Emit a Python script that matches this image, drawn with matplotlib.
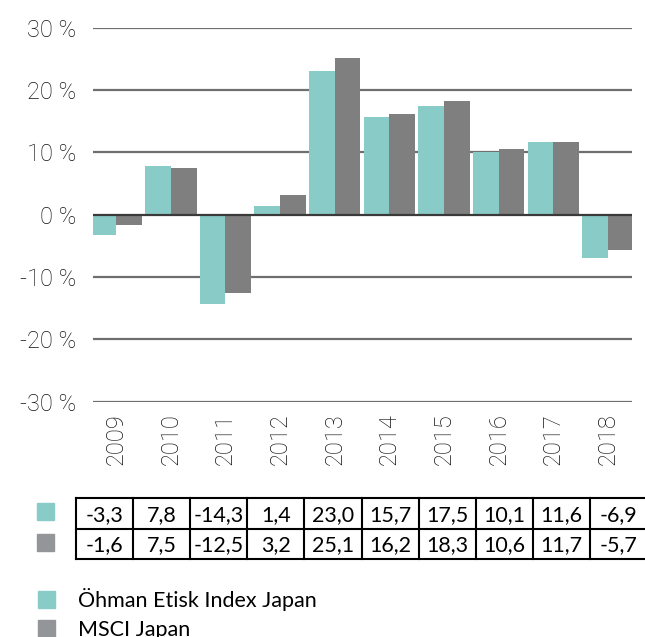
import matplotlib
matplotlib.use("Agg")
import matplotlib.pyplot as plt
from matplotlib.patches import Rectangle
import numpy as np

years = ["2009", "2010", "2011", "2012", "2013", "2014", "2015", "2016", "2017", "2018"]
ohman = [-3.3, 7.8, -14.3, 1.4, 23.0, 15.7, 17.5, 10.1, 11.6, -6.9]
msci = [-1.6, 7.5, -12.5, 3.2, 25.1, 16.2, 18.3, 10.6, 11.7, -5.7]
series_names = ["Öhman Etisk Index Japan", "MSCI Japan"]
yticks = [-30, -20, -10, 0, 10, 20, 30]

teal = "#89CBC6"
gray = "#7F7F7F"
gray_sq = "#939598"

W, H = 645, 637
fig = plt.figure(figsize=(W / 100, H / 100), dpi=100)

def fx(px):
    return px / W

def fy(py):
    return 1 - py / H

ax = fig.add_axes([fx(93), fy(401.7), fx(632) - fx(93), fy(27.7) - fy(401.7)])
x = np.arange(len(years))
bw = 0.47
ax.bar(x - bw / 2, ohman, width=bw, color=teal, zorder=3)
ax.bar(x + bw / 2, msci, width=bw, color=gray, zorder=3)
ax.set_xlim(-0.425, 9.44)
ax.set_ylim(-30, 30)
for yv in yticks:
    ax.axhline(yv, color="#6f6f6f" if yv != 0 else "#3a3a3a", lw=1.6, zorder=2 if yv != 0 else 4)
for s in ax.spines.values():
    s.set_visible(False)
tick_font = dict(fontsize=17, color="#111111", fontfamily="Roboto", fontweight="light")
ax.set_yticks(yticks)
ax.set_yticklabels([f"{v} %" for v in yticks], **tick_font)
ax.set_xticks(x)
ax.set_xticklabels(years, rotation=90, va="top", **tick_font)
ax.tick_params(axis="both", length=0)
ax.tick_params(axis="y", pad=12)
ax.tick_params(axis="x", pad=8)

# data table
tl, tw = 76, 57.1
rows_y = [498.3, 529.0, 559.3]
tfont = dict(fontsize=15.5, fontfamily="Lato", color="black", ha="center", va="center")
for r, vals in enumerate([ohman, msci]):
    yc = (rows_y[r] + rows_y[r + 1]) / 2
    for c, v in enumerate(vals):
        xc = tl + tw * (c + 0.5)
        fig.text(fx(xc), fy(yc + 1), f"{v:.1f}".replace(".", ","), **tfont)
for yy in rows_y:
    fig.add_artist(plt.Line2D([fx(tl), fx(tl + tw * len(years))], [fy(yy), fy(yy)],
                              color="black", lw=1.5))
for c in range(len(years) + 1):
    xx = tl + tw * c
    fig.add_artist(plt.Line2D([fx(xx), fx(xx)], [fy(rows_y[0]), fy(rows_y[-1])],
                              color="black", lw=1.5))
# row markers
for r, col in enumerate([teal, gray_sq]):
    top = [502.7, 534.0][r]
    fig.add_artist(Rectangle((fx(37), fy(top + 17)), fx(17), 17 / H, color=col,
                             transform=fig.transFigure))

# legend
for i, (name, col) in enumerate(zip(series_names, [teal, gray_sq])):
    top = 591 + i * 29
    fig.add_artist(Rectangle((fx(38), fy(top + 17)), fx(17), 17 / H, color=col,
                             transform=fig.transFigure))
    fig.text(fx(78), fy(top + 16), name, fontsize=15.5, fontfamily="Lato",
             color="black", ha="left", va="baseline")

fig.savefig("out.png", dpi=100)
